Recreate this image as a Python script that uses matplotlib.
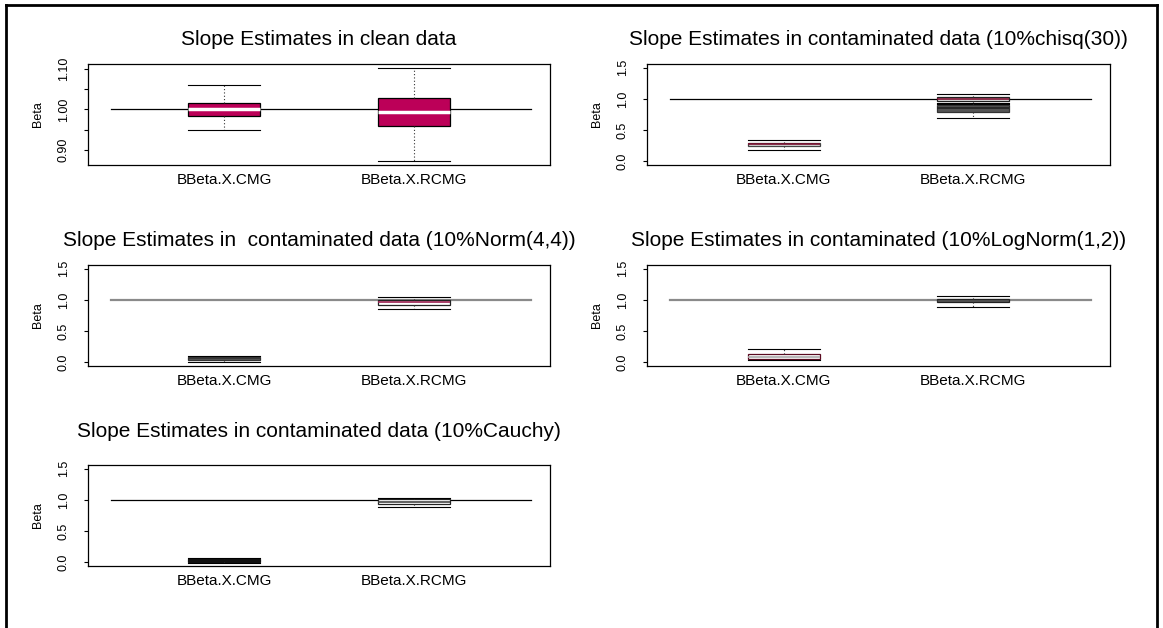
import matplotlib
matplotlib.use("Agg")
import matplotlib.pyplot as plt
from matplotlib.lines import Line2D

plt.rcParams["font.family"] = ["Liberation Sans", "DejaVu Sans"]

groups = ["BBeta.X.CMG", "BBeta.X.RCMG"]
titles = [
    "Slope Estimates in clean data",
    "Slope Estimates in contaminated data (10%chisq(30))",
    "Slope Estimates in  contaminated data (10%Norm(4,4))",
    "Slope Estimates in contaminated (10%LogNorm(1,2))",
    "Slope Estimates in contaminated data (10%Cauchy)",
]

# five-number summaries: whisker low, Q1, median, Q3, whisker high
clean_cmg = [0.949, 0.984, 1.002, 1.016, 1.061]
clean_rcmg = [0.8715, 0.959, 0.9925, 1.028, 1.103]
chisq_cmg = [0.18, 0.25, 0.27, 0.295, 0.34]
chisq_rcmg = [0.92, 0.97, 1.00, 1.03, 1.08]
chisq_rcmg_low = [0.70, 0.79, 0.85, 0.90, 0.93]
norm_cmg = [0.0, 0.04, 0.065, 0.09, 0.10]
norm_rcmg = [0.85, 0.92, 0.96, 1.00, 1.04]
lognorm_cmg = [0.03, 0.06, 0.09, 0.13, 0.21]
lognorm_rcmg = [0.88, 0.96, 0.99, 1.02, 1.07]
cauchy_cmg = [-0.01, 0.01, 0.03, 0.06, 0.07]
cauchy_rcmg = [0.89, 0.94, 0.97, 1.02, 1.03]

true_beta = 1.0

panels = [
    [(clean_cmg, 1), (clean_rcmg, 2)],
    [(chisq_cmg, 1), (chisq_rcmg, 2), (chisq_rcmg_low, 2)],
    [(norm_cmg, 1), (norm_rcmg, 2)],
    [(lognorm_cmg, 1), (lognorm_rcmg, 2)],
    [(cauchy_cmg, 1), (cauchy_rcmg, 2)],
]

# styles per box: (face, edge, median colour, median width)
styles = [
    [("#BC0058", "black", "white", 2.5), ("#BC0058", "black", "white", 2.5)],
    [("#d9d9d9", "#444444", "#7a1030", 1.2), ("#e6e6e6", "#222222", "#7a1030", 1.2),
     ("#555555", "#333333", "#222222", 1.2)],
    [("#555555", "#333333", "#333333", 1.2), ("white", "#222222", "#9a2050", 1.2)],
    [("white", "#5a0a20", "#aaaaaa", 1.2), ("#f0f0f0", "#222222", "#333333", 1.2)],
    [("#111111", "#111111", "#111111", 1.2), ("white", "#222222", "#444444", 1.2)],
]
ref_line = [("black", 0.9), ("black", 0.9), ("#8a8a8a", 1.6), ("#8a8a8a", 1.6), ("black", 0.9)]
title_pad = [14, 14, 14, 14, 20]

W, H = 1163, 628
fig = plt.figure(figsize=(W / 100, H / 100), dpi=100)

# axes boxes in pixels: left, top, width, height
boxes_px = [(88, 64, 462, 101), (647, 64, 463, 101),
            (88, 265, 462, 101), (647, 265, 463, 101),
            (88, 465, 462, 101)]

for i, (l, t, w, h) in enumerate(boxes_px):
    ax = fig.add_axes([l / W, 1 - (t + h) / H, w / W, h / H])
    stats = []
    pos = []
    for vals, p in panels[i]:
        stats.append(dict(whislo=vals[0], q1=vals[1], med=vals[2],
                          q3=vals[3], whishi=vals[4], label=""))
        pos.append(p)
    art = ax.bxp(stats, positions=pos, widths=0.38, capwidths=0.38,
                 patch_artist=True, showfliers=False,
                 whiskerprops=dict(ls=(0, (1, 2)), color="#333333", lw=0.8),
                 capprops=dict(color="black", lw=0.8))
    for j, (fc, ec, mc, mw) in enumerate(styles[i]):
        art["boxes"][j].set_facecolor(fc)
        art["boxes"][j].set_edgecolor(ec)
        art["boxes"][j].set_linewidth(0.9)
        art["medians"][j].set_color(mc)
        art["medians"][j].set_linewidth(mw)

    lc, lw = ref_line[i]
    ax.plot([0.4, 2.62], [true_beta, true_beta], color=lc, lw=lw, zorder=1)
    ax.set_xlim(0.28, 2.72)
    ax.set_xticks([1, 2])
    ax.set_xticklabels(groups, fontsize=11)
    ax.tick_params(axis="x", length=0, pad=6)

    if i == 0:
        ax.set_ylim(0.862, 1.1125)
        ax.set_yticks([0.90, 0.95, 1.00, 1.05, 1.10])
        ax.set_yticklabels(["0.90", "", "1.00", "", "1.10"])
    else:
        ax.set_ylim(-0.06, 1.56)
        ax.set_yticks([0.0, 0.5, 1.0, 1.5])
        ax.set_yticklabels(["0.0", "0.5", "1.0", "1.5"])
    ax.tick_params(axis="y", length=3, width=0.8, pad=10, labelsize=9,
                   labelrotation=90)
    for lab in ax.get_yticklabels():
        lab.set_va("center")
    ax.set_ylabel("Beta", fontsize=9, labelpad=10)
    ax.set_title(titles[i], fontsize=15, pad=title_pad[i])
    for s in ax.spines.values():
        s.set_linewidth(0.9)

# outer frame
fig.add_artist(Line2D([6 / W, 6 / W], [0, 1 - 5 / H], color="black", lw=2))
fig.add_artist(Line2D([6 / W, 1157 / W], [1 - 5 / H, 1 - 5 / H], color="black", lw=2))
fig.add_artist(Line2D([1157 / W, 1157 / W], [0, 1 - 5 / H], color="black", lw=2))

fig.savefig("out.png", dpi=100, facecolor="white")
